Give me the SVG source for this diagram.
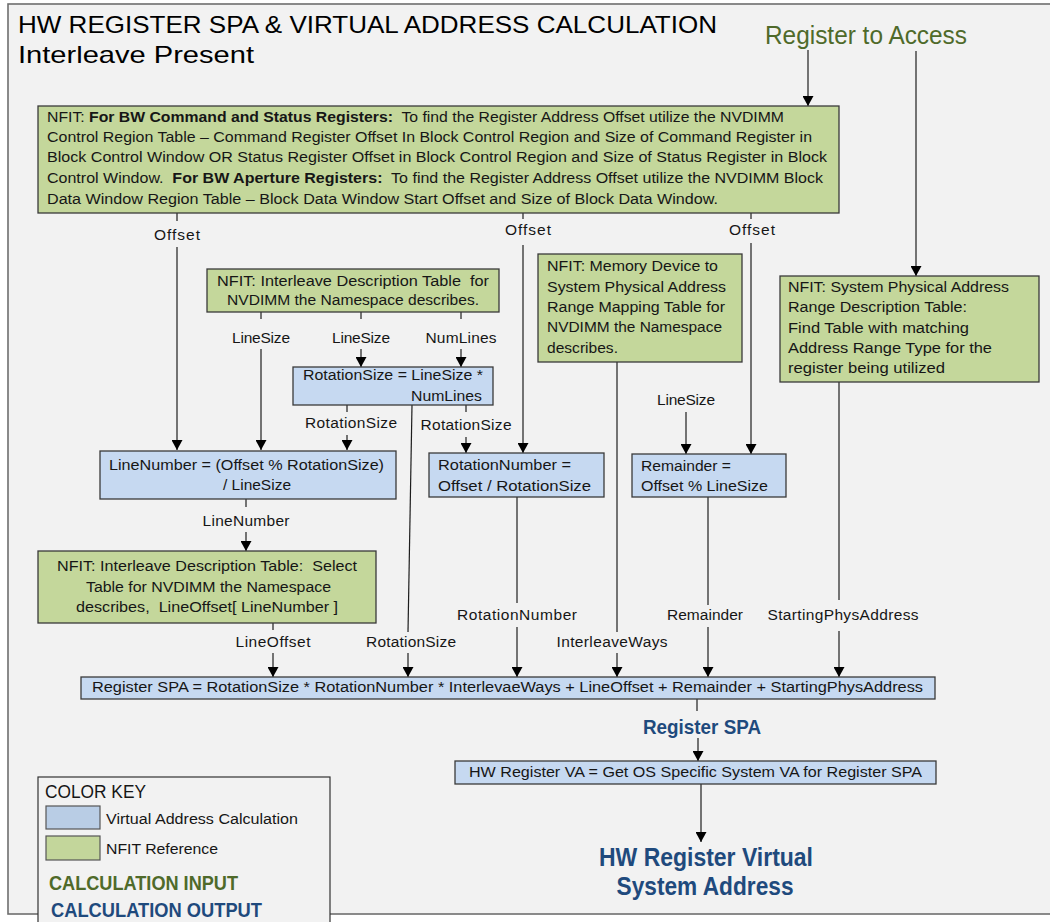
<svg xmlns="http://www.w3.org/2000/svg" width="1050" height="922" viewBox="0 0 1050 922">
  <defs>
    <marker id="arrow" markerUnits="userSpaceOnUse" markerWidth="10" markerHeight="11" refX="10" refY="5.5" orient="auto" viewBox="0 0 10 11">
      <path d="M0,0 L10,5.5 L0,11 z" fill="#000"/>
    </marker>
  </defs>
  <style>
    text { font-family: "Liberation Sans", Arial, sans-serif; fill: #161616; font-size: 15.5px; white-space: pre; }
    .mid { text-anchor: middle; }
    .green { fill: #c4d79b; stroke: #3a3a3a; stroke-width: 1.3; }
    .blue { fill: #c6d9f1; stroke: #3a3a3a; stroke-width: 1.3; }
    .wire { stroke: #1e1e1e; stroke-width: 1.2; fill: none; }
    .arr { marker-end: url(#arrow); }
    .head { font-size: 24px; fill: #000; }
    .in { fill: #4f6a2a; }
    .out { fill: #1f4a7d; font-weight: bold; }
  </style>

  <!-- page frame -->
  <rect x="0" y="0" width="1050" height="922" fill="#ffffff"/>
  <rect x="8" y="4" width="1060" height="910" fill="#f2f2f2" stroke="#6e6e6e" stroke-width="1.6"/>

  <!-- headings -->
  <g id="title">
    <text class="head" x="18" y="33" textLength="699" lengthAdjust="spacingAndGlyphs">HW REGISTER SPA &amp; VIRTUAL ADDRESS CALCULATION</text>
    <text class="head" x="18" y="63" textLength="236" lengthAdjust="spacingAndGlyphs">Interleave Present</text>
  </g>
  <g id="register-to-access">
    <text class="in" x="765" y="44" style="font-size:25px" textLength="202" lengthAdjust="spacingAndGlyphs">Register to Access</text>
  </g>

  <!-- connectors -->
  <g id="connectors">
    <line class="wire arr" x1="808" y1="50" x2="808" y2="106"/>
    <line class="wire arr" x1="916" y1="51" x2="916" y2="276"/>

    <!-- Offset (left) -->
    <line class="wire" x1="177" y1="213" x2="177" y2="221"/>
    <line class="wire arr" x1="177" y1="247" x2="177" y2="450"/>
    <!-- Offset (middle) -->
    <line class="wire" x1="523" y1="213" x2="523" y2="219"/>
    <line class="wire arr" x1="523" y1="245" x2="523" y2="453"/>
    <!-- Offset (right) -->
    <line class="wire" x1="751" y1="213" x2="751" y2="219"/>
    <line class="wire arr" x1="751" y1="243" x2="751" y2="454"/>

    <!-- interleave table outputs -->
    <line class="wire" x1="261" y1="312" x2="261" y2="319"/>
    <line class="wire arr" x1="261" y1="349" x2="261" y2="450"/>
    <line class="wire" x1="361" y1="312" x2="361" y2="319"/>
    <line class="wire arr" x1="361" y1="349" x2="361" y2="367"/>
    <line class="wire" x1="461" y1="312" x2="461" y2="319"/>
    <line class="wire arr" x1="461" y1="349" x2="461" y2="367"/>

    <!-- RotationSize outputs -->
    <line class="wire" x1="347" y1="405" x2="347" y2="412"/>
    <line class="wire arr" x1="347" y1="435" x2="347" y2="450"/>
    <line class="wire" x1="466" y1="405" x2="466" y2="412"/>
    <line class="wire arr" x1="466" y1="437" x2="466" y2="453"/>
    <line class="wire" x1="412" y1="405" x2="408" y2="632"/>
    <line class="wire arr" x1="408" y1="653" x2="408" y2="677"/>

    <!-- LineNumber -> select table -->
    <line class="wire" x1="246" y1="499" x2="246" y2="507"/>
    <line class="wire arr" x1="246" y1="532" x2="246" y2="551"/>
    <!-- LineOffset -->
    <line class="wire" x1="273" y1="623" x2="273" y2="630"/>
    <line class="wire arr" x1="273" y1="653" x2="273" y2="677"/>
    <!-- RotationNumber -->
    <line class="wire" x1="517" y1="497" x2="517" y2="603"/>
    <line class="wire arr" x1="517" y1="627" x2="517" y2="677"/>
    <!-- InterleaveWays -->
    <line class="wire" x1="617" y1="362" x2="617" y2="632"/>
    <line class="wire arr" x1="617" y1="653" x2="617" y2="677"/>
    <!-- LineSize -> Remainder -->
    <line class="wire arr" x1="686" y1="412" x2="686" y2="454"/>
    <!-- Remainder -->
    <line class="wire" x1="708" y1="497" x2="708" y2="605"/>
    <line class="wire arr" x1="708" y1="627" x2="708" y2="677"/>
    <!-- StartingPhysAddress -->
    <line class="wire" x1="839" y1="382" x2="839" y2="600"/>
    <line class="wire arr" x1="839" y1="631" x2="839" y2="677"/>
    <!-- Register SPA -> VA -->
    <line class="wire" x1="697" y1="699" x2="697" y2="711"/>
    <line class="wire arr" x1="698" y1="738" x2="698" y2="761"/>
    <line class="wire arr" x1="701" y1="784" x2="701" y2="842"/>

    <!-- connector labels -->
    <text class="mid" x="177" y="240" textLength="46">Offset</text>
    <text class="mid" x="528" y="235" textLength="46">Offset</text>
    <text class="mid" x="752" y="235" textLength="46">Offset</text>
    <text class="mid" x="261" y="343" textLength="58">LineSize</text>
    <text class="mid" x="361" y="343" textLength="58">LineSize</text>
    <text class="mid" x="461" y="343" textLength="71">NumLines</text>
    <text class="mid" x="351" y="428" textLength="92">RotationSize</text>
    <text class="mid" x="466" y="430" textLength="91">RotationSize</text>
    <text class="mid" x="686" y="405" textLength="58">LineSize</text>
    <text class="mid" x="246" y="526" textLength="87">LineNumber</text>
    <text class="mid" x="273" y="647" textLength="75">LineOffset</text>
    <text class="mid" x="411" y="647" textLength="90">RotationSize</text>
    <text class="mid" x="517" y="620" textLength="120">RotationNumber</text>
    <text class="mid" x="612" y="647" textLength="111">InterleaveWays</text>
    <text class="mid" x="705" y="620" textLength="76">Remainder</text>
    <text class="mid" x="843" y="620" textLength="151">StartingPhysAddress</text>
    <text class="out mid" x="702" y="734" style="font-size:21px" textLength="118" lengthAdjust="spacingAndGlyphs">Register SPA</text>
  </g>

  <!-- NFIT: register offset lookup -->
  <g id="nfit-register-offset">
    <rect class="green" x="38" y="106" width="801" height="107"/>
    <text x="47" y="122" textLength="737" lengthAdjust="spacingAndGlyphs">NFIT: <tspan font-weight="bold">For BW Command and Status Registers:</tspan>  To find the Register Address Offset utilize the NVDIMM</text>
    <text x="47" y="142" textLength="765" lengthAdjust="spacingAndGlyphs">Control Region Table – Command Register Offset In Block Control Region and Size of Command Register in</text>
    <text x="47" y="162" textLength="780" lengthAdjust="spacingAndGlyphs">Block Control Window OR Status Register Offset in Block Control Region and Size of Status Register in Block</text>
    <text x="47" y="183" textLength="776" lengthAdjust="spacingAndGlyphs">Control Window.  <tspan font-weight="bold">For BW Aperture Registers:</tspan>  To find the Register Address Offset utilize the NVDIMM Block</text>
    <text x="47" y="204" textLength="671" lengthAdjust="spacingAndGlyphs">Data Window Region Table – Block Data Window Start Offset and Size of Block Data Window.</text>
  </g>

  <!-- NFIT: interleave description table -->
  <g id="nfit-interleave">
    <rect class="green" x="207" y="269" width="292" height="43"/>
    <text class="mid" x="353" y="286" textLength="272" lengthAdjust="spacingAndGlyphs">NFIT: Interleave Description Table  for</text>
    <text class="mid" x="353" y="305" textLength="252" lengthAdjust="spacingAndGlyphs">NVDIMM the Namespace describes.</text>
  </g>

  <!-- NFIT: memory device to SPA range mapping -->
  <g id="nfit-memdev">
    <rect class="green" x="538" y="254" width="204" height="108"/>
    <text x="547" y="271" textLength="171" lengthAdjust="spacingAndGlyphs">NFIT: Memory Device to</text>
    <text x="547" y="292" textLength="179" lengthAdjust="spacingAndGlyphs">System Physical Address</text>
    <text x="547" y="312" textLength="178" lengthAdjust="spacingAndGlyphs">Range Mapping Table for</text>
    <text x="547" y="332" textLength="175" lengthAdjust="spacingAndGlyphs">NVDIMM the Namespace</text>
    <text x="547" y="353" textLength="71" lengthAdjust="spacingAndGlyphs">describes.</text>
  </g>

  <!-- NFIT: SPA range description -->
  <g id="nfit-spa-range">
    <rect class="green" x="780" y="276" width="259" height="106"/>
    <text x="788" y="292" textLength="221" lengthAdjust="spacingAndGlyphs">NFIT: System Physical Address</text>
    <text x="788" y="312" textLength="179" lengthAdjust="spacingAndGlyphs">Range Description Table:</text>
    <text x="788" y="333" textLength="181" lengthAdjust="spacingAndGlyphs">Find Table with matching</text>
    <text x="788" y="353" textLength="204" lengthAdjust="spacingAndGlyphs">Address Range Type for the</text>
    <text x="788" y="373" textLength="157" lengthAdjust="spacingAndGlyphs">register being utilized</text>
  </g>

  <!-- RotationSize -->
  <g id="rotation-size">
    <rect class="blue" x="293" y="367" width="200" height="38"/>
    <text x="303" y="380" textLength="180" lengthAdjust="spacingAndGlyphs">RotationSize = LineSize *</text>
    <text x="411" y="401" textLength="71" lengthAdjust="spacingAndGlyphs">NumLines</text>
  </g>

  <!-- LineNumber -->
  <g id="line-number">
    <rect class="blue" x="100" y="451" width="296" height="48"/>
    <text x="109" y="470" textLength="275" lengthAdjust="spacingAndGlyphs">LineNumber = (Offset % RotationSize)</text>
    <text x="223" y="490" textLength="68" lengthAdjust="spacingAndGlyphs">/ LineSize</text>
  </g>

  <!-- RotationNumber -->
  <g id="rotation-number">
    <rect class="blue" x="429" y="453" width="175" height="44"/>
    <text x="438" y="470" textLength="133" lengthAdjust="spacingAndGlyphs">RotationNumber =</text>
    <text x="438" y="491" textLength="153" lengthAdjust="spacingAndGlyphs">Offset / RotationSize</text>
  </g>

  <!-- Remainder -->
  <g id="remainder">
    <rect class="blue" x="632" y="454" width="154" height="43"/>
    <text x="641" y="471" textLength="90" lengthAdjust="spacingAndGlyphs">Remainder =</text>
    <text x="641" y="491" textLength="127" lengthAdjust="spacingAndGlyphs">Offset % LineSize</text>
  </g>

  <!-- NFIT: select interleave table, LineOffset -->
  <g id="nfit-line-offset">
    <rect class="green" x="38" y="551" width="338" height="72"/>
    <text x="57" y="571" textLength="300" lengthAdjust="spacingAndGlyphs">NFIT: Interleave Description Table:  Select</text>
    <text x="86" y="592" textLength="245" lengthAdjust="spacingAndGlyphs">Table for NVDIMM the Namespace</text>
    <text x="76" y="612" textLength="262" lengthAdjust="spacingAndGlyphs">describes,  LineOffset[ LineNumber ]</text>
  </g>

  <!-- Register SPA -->
  <g id="register-spa">
    <rect class="blue" x="81" y="677" width="854" height="22"/>
    <text x="92" y="692" textLength="831" lengthAdjust="spacingAndGlyphs">Register SPA = RotationSize * RotationNumber * InterlevaeWays + LineOffset + Remainder + StartingPhysAddress</text>
  </g>

  <!-- HW Register VA -->
  <g id="hw-register-va">
    <rect class="blue" x="455" y="761" width="481" height="23"/>
    <text x="469" y="777" textLength="453" lengthAdjust="spacingAndGlyphs">HW Register VA = Get OS Specific System VA for Register SPA</text>
  </g>

  <!-- final output -->
  <g id="hw-register-virtual-address">
    <text class="out mid" x="706" y="866" style="font-size:25px" textLength="214" lengthAdjust="spacingAndGlyphs">HW Register Virtual</text>
    <text class="out mid" x="705" y="895" style="font-size:25px" textLength="177" lengthAdjust="spacingAndGlyphs">System Address</text>
  </g>

  <!-- colour key -->
  <g id="color-key">
    <rect x="38" y="777" width="292" height="160" fill="#f2f2f2" stroke="#333" stroke-width="1.2"/>
    <text x="45" y="798" style="font-size:19px" textLength="101" lengthAdjust="spacingAndGlyphs">COLOR KEY</text>
    <rect x="46" y="806" width="54" height="23" fill="#b9cde5" stroke="#555" stroke-width="1.2"/>
    <text x="106" y="824" textLength="192" lengthAdjust="spacingAndGlyphs">Virtual Address Calculation</text>
    <rect x="46" y="836" width="54" height="24" fill="#c3d69b" stroke="#555" stroke-width="1.2"/>
    <text x="106" y="854" textLength="112" lengthAdjust="spacingAndGlyphs">NFIT Reference</text>
    <text class="in" x="49" y="890" style="font-size:21px;font-weight:bold" textLength="189" lengthAdjust="spacingAndGlyphs">CALCULATION INPUT</text>
    <text class="out" x="51" y="917" style="font-size:21px" textLength="211" lengthAdjust="spacingAndGlyphs">CALCULATION OUTPUT</text>
  </g>
</svg>
